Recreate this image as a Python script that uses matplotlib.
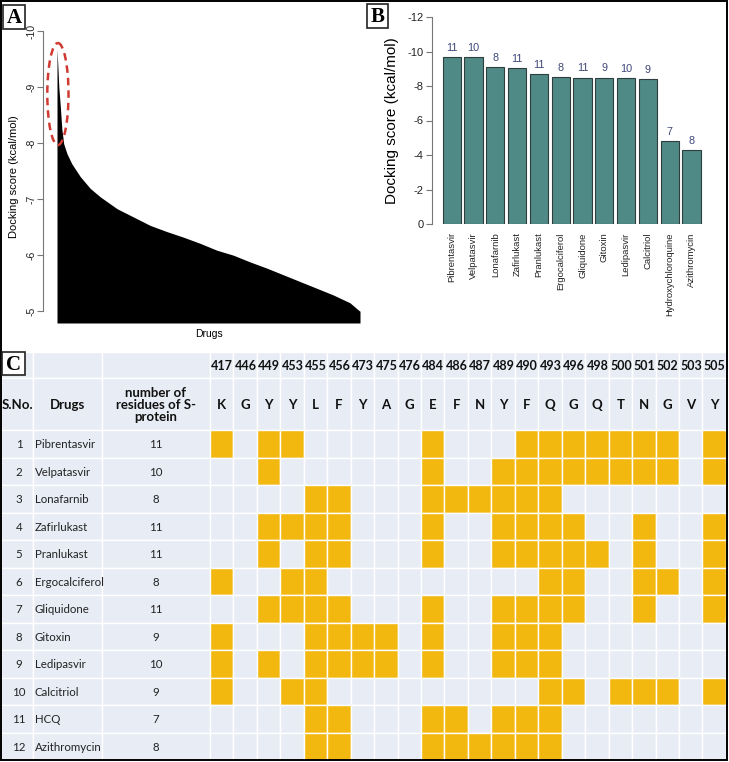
import matplotlib
matplotlib.use('Agg')
import matplotlib.pyplot as plt
from matplotlib.patches import Rectangle, Ellipse

# Panel A: sorted docking scores of all screened drugs
rank_pct = [0, 0.3, 0.6, 1.1, 1.6, 2.2, 3.3, 4.9, 7.7, 11.0, 14.3, 19.8, 25.3,
            30.8, 36.3, 41.8, 47.3, 52.7, 58.2, 63.7, 69.2, 74.7, 80.2, 85.7,
            91.2, 96.7, 99.5, 100]
all_scores = [-9.68, -9.35, -9.0, -8.65, -8.25, -7.99, -7.81, -7.63, -7.40, -7.19,
              -7.04, -6.83, -6.68, -6.53, -6.42, -6.32, -6.21, -6.09, -6.00, -5.88,
              -5.77, -5.65, -5.53, -5.41, -5.29, -5.15, -5.02, -5.00]

# Panel B: top drugs
drugs_b = ['Pibrentasvir', 'Velpatasvir', 'Lonafarnib', 'Zafirlukast', 'Pranlukast',
           'Ergocalciferol', 'Gliquidone', 'Gitoxin', 'Ledipasvir', 'Calcitriol',
           'Hydroxychloroquine', 'Azithromycin']
scores_b = [-9.66, -9.66, -9.10, -9.04, -8.71, -8.53, -8.49, -8.49, -8.45, -8.39, -4.82, -4.30]
n_res = [11, 10, 8, 11, 11, 8, 11, 9, 10, 9, 7, 8]

# Panel C: contact table
drugs_c = ['Pibrentasvir', 'Velpatasvir', 'Lonafarnib', 'Zafirlukast', 'Pranlukast',
           'Ergocalciferol', 'Gliquidone', 'Gitoxin', 'Ledipasvir', 'Calcitriol',
           'HCQ', 'Azithromycin']
res_num = [417, 446, 449, 453, 455, 456, 473, 475, 476, 484, 486, 487, 489, 490,
           493, 496, 498, 500, 501, 502, 503, 505]
res_aa = ['K', 'G', 'Y', 'Y', 'L', 'F', 'Y', 'A', 'G', 'E', 'F', 'N', 'Y', 'F',
          'Q', 'G', 'Q', 'T', 'N', 'G', 'V', 'Y']
contacts = [
    [417, 449, 453, 484, 490, 493, 496, 498, 500, 501, 502, 505],
    [449, 484, 489, 490, 493, 496, 498, 500, 501, 502, 505],
    [455, 456, 484, 486, 487, 489, 490, 493],
    [449, 453, 455, 456, 484, 489, 490, 493, 496, 501, 505],
    [449, 455, 456, 484, 489, 490, 493, 496, 498, 501, 505],
    [417, 453, 455, 493, 496, 501, 502, 505],
    [449, 453, 455, 456, 484, 489, 490, 493, 496, 501, 505],
    [417, 455, 456, 473, 475, 484, 489, 490, 493],
    [417, 449, 455, 456, 473, 475, 484, 489, 490, 493],
    [417, 453, 455, 493, 496, 500, 501, 502, 505],
    [455, 456, 484, 486, 489, 490, 493],
    [455, 456, 484, 486, 487, 489, 490, 493],
]

W, H = 729, 762
fig = plt.figure(figsize=(W / 100, H / 100), dpi=100)
fig.patch.set_facecolor('white')


def px_rect(left, top, right, bottom):
    # pixel box -> figure fraction
    return [left / W, 1 - bottom / H, (right - left) / W, (bottom - top) / H]


# background axes in pixel coords: table, borders, panel letters
bg = fig.add_axes([0, 0, 1, 1])
bg.set_xlim(0, W)
bg.set_ylim(H, 0)
bg.axis('off')

cell_bg = '#E8EDF5'
yellow = '#F3B80F'
col_edges = [1, 33, 102, 210] + [210 + 23.45 * (i + 1) for i in range(len(res_num))]
row_h = 27.5
top0, top1, top2 = 352, 378, 430

# header rows
for i in range(len(col_edges) - 1):
    x0, x1 = col_edges[i], col_edges[i + 1]
    bg.add_patch(Rectangle((x0, top0), x1 - x0, top1 - top0, fc=cell_bg, ec='white', lw=1))
    bg.add_patch(Rectangle((x0, top1), x1 - x0, top2 - top1, fc=cell_bg, ec='white', lw=1))

hfont = dict(family='Lato', fontweight='bold', color='#111111')
for j, (num, aa) in enumerate(zip(res_num, res_aa)):
    xc = (col_edges[3 + j] + col_edges[4 + j]) / 2
    bg.text(xc + 0.5, (top0 + top1) / 2 + 1, str(num), ha='center', va='center', fontsize=9.0, **hfont)
    bg.text(xc, (top1 + top2) / 2 + 1, aa, ha='center', va='center', fontsize=9.5, **hfont)
bg.text((col_edges[0] + col_edges[1]) / 2, (top1 + top2) / 2 + 1, 'S.No.', ha='center', va='center', fontsize=9.5, **hfont)
bg.text((col_edges[1] + col_edges[2]) / 2, (top1 + top2) / 2 + 1, 'Drugs', ha='center', va='center', fontsize=9.5, **hfont)
bg.text((col_edges[2] + col_edges[3]) / 2, (top1 + top2) / 2 + 1, 'number of\nresidues of S-\nprotein',
        ha='center', va='center', fontsize=9.5, linespacing=1.0, **hfont)

# data rows
for r, drug in enumerate(drugs_c):
    y0 = top2 + r * row_h
    for i in range(len(col_edges) - 1):
        x0, x1 = col_edges[i], col_edges[i + 1]
        fc = cell_bg
        if i >= 3 and res_num[i - 3] in contacts[r]:
            fc = yellow
        bg.add_patch(Rectangle((x0, y0), x1 - x0, row_h, fc=fc, ec='white', lw=1))
    yc = y0 + row_h / 2 + 1
    bg.text(19, yc, str(r + 1), ha='center', va='center', fontsize=8.3, family='Lato', color='#222222')
    bg.text(35, yc, drug, ha='left', va='center', fontsize=8.3, family='Lato', color='#222222')
    bg.text((col_edges[2] + col_edges[3]) / 2, yc, str(n_res[r]), ha='center', va='center',
            fontsize=8.3, family='Lato', color='#222222')

# outer border
bg.add_patch(Rectangle((1, 1), 726, 759, fc='none', ec='black', lw=1.4))

# panel letters in boxes
for lab, (x0, y0, x1, y1) in [('A', (3, 5, 25, 29)), ('B', (367, 4, 388, 28)), ('C', (2, 352, 25, 375))]:
    bg.add_patch(Rectangle((x0, y0), x1 - x0, y1 - y0, fc='white', ec='#222222', lw=1.2, zorder=5))
    bg.text((x0 + x1) / 2, (y0 + y1) / 2 + 1, lab, ha='center', va='center', fontsize=15,
            family='Liberation Serif', fontweight='bold', zorder=6)

# Panel A
axA = fig.add_axes(px_rect(57, 31, 360, 323))
axA.fill_between(rank_pct, all_scores, -4.79, color='black', lw=0)
axA.set_xlim(0, 100)
axA.set_ylim(-4.79, -10)
axA.add_patch(Ellipse((0.3, -8.875), 7, 1.82, fill=False, ec='#D03A32', lw=1.8, ls=(0, (3, 2)), clip_on=False))
for s in ['top', 'right', 'bottom']:
    axA.spines[s].set_visible(False)
axA.spines['left'].set_position(('outward', 10))
axA.spines['left'].set_bounds(-10, -5)
axA.spines['left'].set_color('#777777')
axA.set_xticks([])
axA.set_yticks([-10, -9, -8, -7, -6, -5])
axA.set_yticklabels(['-10', '-9', '-8', '-7', '-6', '-5'], rotation=90, va='center',
                    family='Liberation Sans', fontsize=7.5)
axA.tick_params(axis='y', colors='#777777', labelcolor='#222222', length=4, pad=1)
axA.set_ylabel('Docking score (kcal/mol)', family='Liberation Sans', fontsize=8, labelpad=5)
axA.set_xlabel('Drugs', family='Liberation Sans', fontsize=7.5, labelpad=4)
axA.patch.set_alpha(0)

# Panel B
axB = fig.add_axes(px_rect(438.6, 17, 704.6, 224))
xs = list(range(len(drugs_b)))
axB.bar(xs, scores_b, width=0.83, color='#508A87', edgecolor='#2f3d3c', lw=0.8)
for x, s, n in zip(xs, scores_b, n_res):
    axB.annotate(str(n), (x, s), xytext=(0, 3), textcoords='offset points', ha='center', va='bottom',
                 fontsize=7.8, family='Liberation Sans', color='#3e4878')
axB.set_xlim(-0.6, 11.6)
axB.set_ylim(0, -12)
for s in ['top', 'right', 'bottom']:
    axB.spines[s].set_visible(False)
axB.spines['left'].set_position(('outward', 5))
axB.spines['left'].set_bounds(0, -12)
axB.spines['left'].set_color('#777777')
axB.set_yticks([0, -2, -4, -6, -8, -10, -12])
axB.set_yticklabels(['0', '-2', '-4', '-6', '-8', '-10', '-12'], family='Liberation Sans', fontsize=8)
axB.set_xticks(xs)
axB.set_xticklabels(drugs_b, rotation=90, family='Liberation Sans', fontsize=6.8)
axB.tick_params(axis='y', colors='#777777', labelcolor='#222222', length=4, pad=2)
axB.tick_params(axis='x', length=0, pad=6, labelcolor='#222222')
axB.set_ylabel('Docking score (kcal/mol)', family='Liberation Sans', fontsize=11, labelpad=6)
axB.patch.set_alpha(0)

fig.savefig('out.png', dpi=100)
